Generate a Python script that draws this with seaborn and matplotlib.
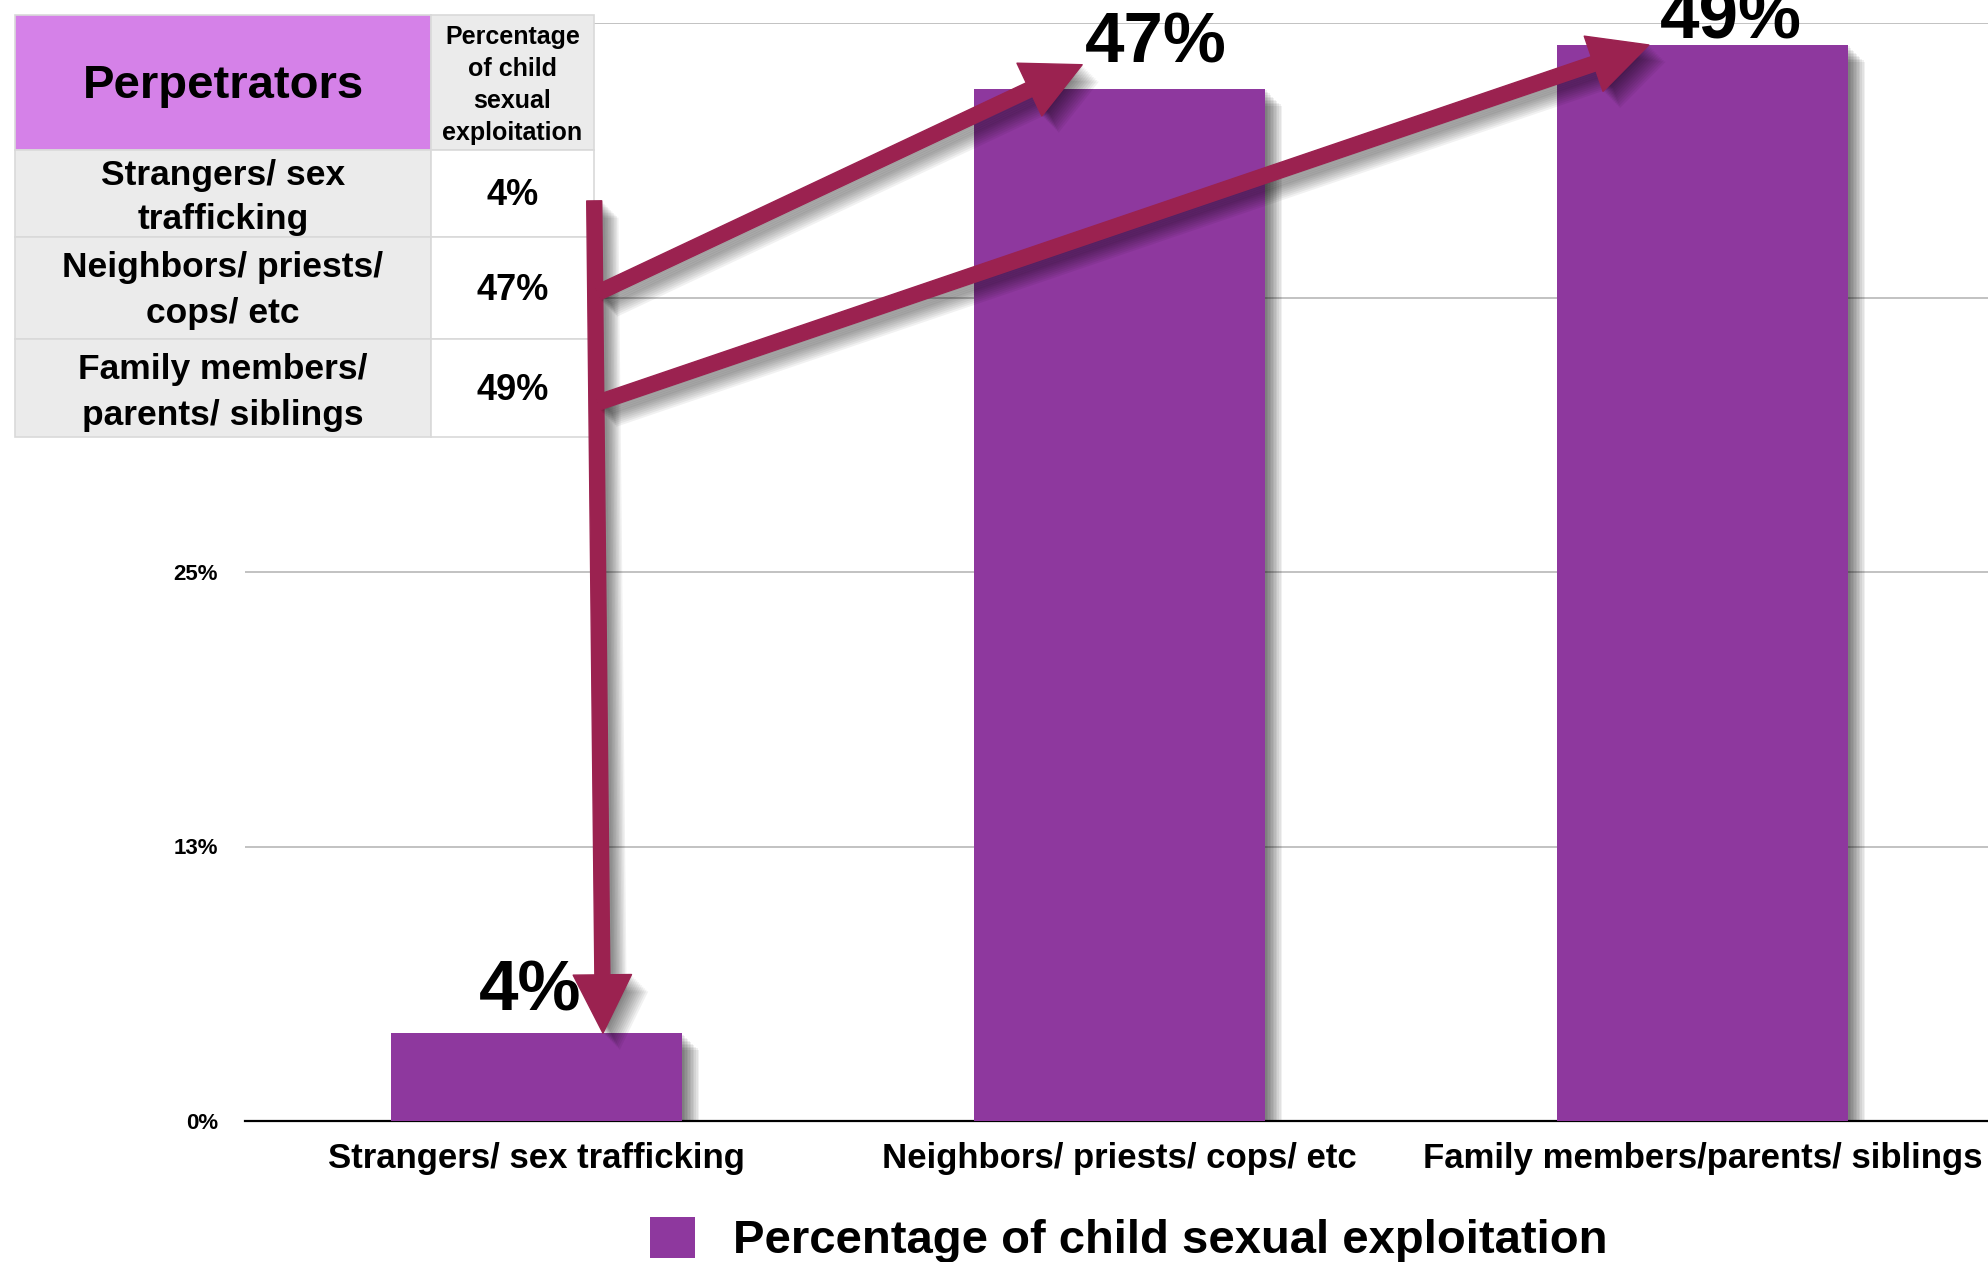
import matplotlib
matplotlib.use("Agg")
import matplotlib.pyplot as plt
import matplotlib.patheffects as pe
from matplotlib.patches import Rectangle, FancyArrowPatch, Patch, ArrowStyle
import seaborn as sns
import pandas as pd

# ---------------- data ----------------
categories = ["Strangers/ sex trafficking",
              "Neighbors/ priests/ cops/ etc",
              "Family members/parents/ siblings"]
table_labels = ["Strangers/ sex\ntrafficking",
                "Neighbors/ priests/\ncops/ etc",
                "Family members/\nparents/ siblings"]
values = [4, 47, 49]
series_name = "Percentage of child sexual exploitation"
table_header = ["Perpetrators", "Percentage\nof child\nsexual\nexploitation"]
y_ticks = [0, 12.5, 25, 37.5, 50]
y_tick_labels = ["0%", "13%", "25%", "38%", "50%"]

# ---------------- styles / positions ----------------
BAR = "#8E389E"
ARROW = "#9B2250"
HEADER = "#D581E8"
CELL_GRAY = "#EBEBEB"
BORDER = "#D9D9D9"
GRID = "#BDBDBD"

sns.set_theme(style="white")
plt.rcParams["font.family"] = ["Liberation Sans", "DejaVu Sans"]
plt.rcParams["font.weight"] = "bold"
plt.rcParams["text.color"] = "black"
plt.rcParams["xtick.color"] = "black"
plt.rcParams["ytick.color"] = "black"

W, H = 1988, 1262
fig = plt.figure(figsize=(W / 100, H / 100), dpi=100)
fig.patch.set_facecolor("white")


def fx(px):
    return px / W


def fy(py):
    return 1 - py / H


def soft_shadow(n=9, step=1.1, alpha=0.045):
    effects = [pe.SimplePatchShadow(offset=(k * step, -k * step), shadow_rgbFace="black", alpha=alpha)
               for k in range(n, 0, -1)]
    return effects + [pe.Normal()]


ax = fig.add_axes([fx(245), fy(1121), fx(1994) - fx(245), fy(23) - fy(1121)])
df = pd.DataFrame({"Perpetrators": categories, "Percentage": values})
sns.barplot(data=df, x="Perpetrators", y="Percentage", color=BAR,
            saturation=1, width=0.5, ax=ax, zorder=3)
for p in ax.patches:
    p.set_edgecolor("none")
    p.set_path_effects(soft_shadow(n=11, step=1.1, alpha=0.06))

ax.set_xlim(-0.5, 2.5)
ax.set_ylim(0, 50)
ax.set_yticks(y_ticks, y_tick_labels)
ax.tick_params(axis="y", length=0, pad=19.4, labelsize=16)
ax.tick_params(axis="x", length=0, pad=15, labelsize=25)
for lab in ax.get_xticklabels() + ax.get_yticklabels():
    lab.set_fontweight("bold")
    lab.set_color("black")
ax.set_xlabel("")
ax.set_ylabel("")
ax.yaxis.grid(True, color=GRID, lw=1.3)
ax.set_axisbelow(True)
for s in ["left", "right", "top"]:
    ax.spines[s].set_visible(False)
ax.spines["bottom"].set_color("black")
ax.spines["bottom"].set_linewidth(1.6)

# value labels (offsets in px from bar top centre)
label_offsets_px = [(-6, 23), (36, 26), (28, 6)]
for i, v in enumerate(values):
    dx, dy = label_offsets_px[i]
    ax.annotate(f"{v}%", xy=(i, v), xytext=(dx * 0.72, dy * 0.72),
                textcoords="offset points", ha="center", va="baseline",
                fontsize=51, fontweight="bold", color="black",
                annotation_clip=False, zorder=6)

# ---------------- table ----------------
tax = fig.add_axes([0, 0, 1, 1], zorder=1)
tax.set_xlim(0, W)
tax.set_ylim(H, 0)
tax.axis("off")
tax.patch.set_visible(False)

cols = [15, 431, 594]
rows = [15, 150, 237, 339, 437]


def cell(x0, x1, y0, y1, fc):
    r = Rectangle((x0, y0), x1 - x0, y1 - y0, facecolor=fc, edgecolor=BORDER, lw=1.2)
    tax.add_patch(r)
    return r


cell(cols[0], cols[1], rows[0], rows[1], HEADER)
cell(cols[1], cols[2], rows[0], rows[1], CELL_GRAY)
tax.text((cols[0] + cols[1]) / 2, 86, table_header[0], fontsize=34,
         fontweight="bold", ha="center", va="center", color="black")
tax.text((cols[1] + cols[2]) / 2, 85, table_header[1], fontsize=18,
         fontweight="bold", ha="center", va="center", linespacing=1.42,
         multialignment="center", color="black")
label_dy = [4, 3, 4]
label_ls = [1.42, 1.5, 1.5]
for i, (lab, v) in enumerate(zip(table_labels, values)):
    y0, y1 = rows[i + 1], rows[i + 2]
    rl = cell(cols[0], cols[1], y0, y1, CELL_GRAY)
    cell(cols[1], cols[2], y0, y1, "white")
    t = tax.text((cols[0] + cols[1]) / 2, (y0 + y1) / 2 + label_dy[i], lab,
                 fontsize=25.5, fontweight="bold", ha="center", va="center",
                 linespacing=label_ls[i], multialignment="center", color="black")
    t.set_clip_path(rl)
    tax.text((cols[1] + cols[2]) / 2, (y0 + y1) / 2 + 2, f"{v}%",
             fontsize=26, fontweight="bold", ha="center", va="center", color="black")

# ---------------- arrows (table -> bars) ----------------
arrow_starts = [(0.099, 41.9), (0.104, 37.7), (0.104, 32.7)]
arrow_tip_dx = [0.114, -0.064, -0.092]
arrow_tip_dy = [0.0, 1.1, 0.0]
style = ArrowStyle("Simple", head_length=42, head_width=42, tail_width=10.8)
for i, v in enumerate(values):
    tip = (i + arrow_tip_dx[i], v + arrow_tip_dy[i])
    arr = FancyArrowPatch(posA=arrow_starts[i], posB=tip, arrowstyle=style,
                          mutation_scale=1, color=ARROW, shrinkA=0, shrinkB=0,
                          transform=ax.transData, zorder=3)
    arr.set_path_effects(soft_shadow(n=11, step=1.1, alpha=0.055))
    fig.add_artist(arr)

# ---------------- legend ----------------
handle = Patch(facecolor=BAR, edgecolor="none", label=series_name)
leg = fig.legend(handles=[handle], loc="center left",
                 bbox_to_anchor=(fx(650), fy(1240)), frameon=False,
                 prop={"size": 34, "weight": "bold"}, handlelength=0.96,
                 handleheight=0.96, handletextpad=0.8, borderpad=0, borderaxespad=0)
for t in leg.get_texts():
    t.set_color("black")

fig.savefig("out.png", dpi=100, facecolor="white")
